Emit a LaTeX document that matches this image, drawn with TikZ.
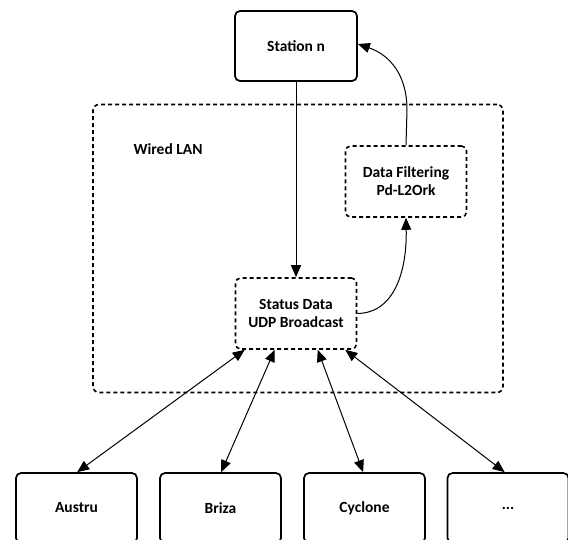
\documentclass[tikz,border=0pt]{standalone}
\usepackage{fontspec}
\setmainfont{Carlito}
\usetikzlibrary{arrows.meta}
\begin{document}
\begin{tikzpicture}[x=1pt,y=-1pt,
  lbl/.style={font=\fontsize{15.5}{18}\selectfont\bfseries, align=center},
  solidbox/.style={draw, line width=1.7pt, rounded corners=5pt, minimum width=122pt, minimum height=70pt, lbl, inner sep=0pt},
  dashbox/.style={draw, line width=1.6pt, dash pattern=on 4pt off 3pt, rounded corners=5pt, minimum width=121pt, minimum height=71pt, lbl, inner sep=0pt},
  conn/.style={line width=1pt, -{Triangle[length=12pt,width=10pt]}},
  biconn/.style={line width=1pt, {Triangle[length=12pt,width=10pt]}-{Triangle[length=12pt,width=10pt]}}]
\clip (0,0) rectangle (568,539);
\fill[white] (0,0) rectangle (568,539);
% Wired LAN region
\node[draw, line width=1.6pt, dash pattern=on 4pt off 3pt, rounded corners=6pt, minimum width=410pt, minimum height=288pt, inner sep=0pt] (lan) at (298,248.5) {};
\node[lbl, anchor=west] (lanlbl) at (130,149) {Wired LAN};
% nodes
\node[solidbox] (sn) at (296,46) {Station n};
\node[dashbox] (df) at (406,181.5) {Data Filtering\\Pd-L2Ork};
\node[dashbox] (st) at (296,313.5) {Status Data\\UDP Broadcast};
\node[solidbox, minimum width=121pt] (au) at (76.5,508) {Austru};
\node[solidbox, minimum width=121pt] (br) at (220.5,508) {Briza};
\node[solidbox, minimum width=121pt] (cy) at (364.5,508) {Cyclone};
\node[solidbox, minimum width=121pt] (dt) at (508,508) {...};
% connectors
\draw[conn] (sn.south) -- (st.north);
\draw[conn] (st.east) .. controls (395,313) and (407,270) .. (df.south);
\draw[conn] (df.north) -- (407,110) .. controls (407,75) and (390,55) .. ([yshift=2pt]sn.east);
\draw[biconn] ([xshift=10pt]st.south west) -- ([xshift=62pt]au.north west);
\draw[biconn] ([xshift=40pt]st.south west) -- ([xshift=62pt]br.north west);
\draw[biconn] ([xshift=83pt]st.south west) -- ([xshift=60pt]cy.north west);
\draw[biconn] ([xshift=-12pt]st.south east) -- ([xshift=58pt]dt.north west);
\end{tikzpicture}
\end{document}
